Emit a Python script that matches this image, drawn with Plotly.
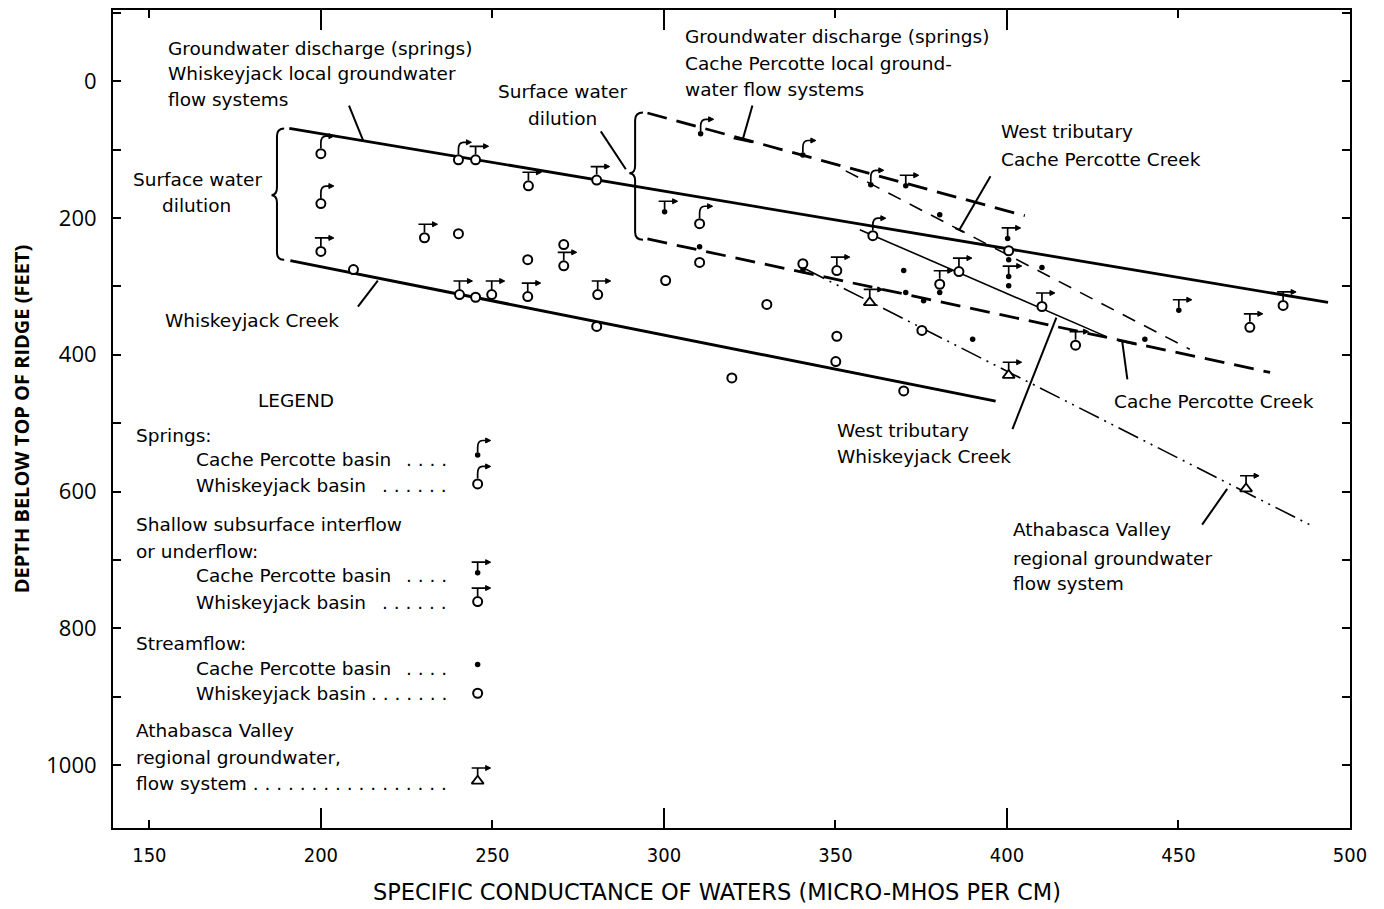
import plotly.graph_objects as go

# ---------------- data ----------------
# Springs
spring_cp_x = [310.7, 340.5, 360.3]
spring_cp_y = [77, 108, 151.6]
spring_wj_x = [200, 200, 240.1, 310.4, 360.9]
spring_wj_y = [106, 179, 115, 208.5, 226]
# Shallow subsurface interflow or underflow
shallow_cp_x = [370.5, 300.2, 400.2, 400.5, 450.1]
shallow_cp_y = [153, 191, 230, 285.7, 335]
shallow_wj_x = [200, 230.2, 245.1, 260.5, 280.4, 270.8, 240.4, 249.8, 260.3, 280.7,
                350.4, 386, 380.4, 410.2, 420, 470.8, 480.5]
shallow_wj_y = [249, 229, 115, 153, 144.6, 270, 312, 312, 315, 312,
                277, 278.5, 297, 329.5, 386, 360, 328]
# Streamflow
stream_cp_x = [310.4, 340.5, 369.9, 370.5, 375.7, 380.4, 400.5, 400.5, 410.2, 380.4, 390, 440.2]
stream_cp_y = [242, 277, 277, 309, 321, 195.5, 261, 299, 272.6, 309, 377.5, 377.5]
stream_wj_x = [209.5, 240.1, 245.1, 260.3, 270.8, 280.4, 310.4, 300.5, 340.5, 330,
               350.4, 350.1, 319.8, 375.2, 369.9, 400.5]
stream_wj_y = [275.5, 223, 316, 261, 239, 358.6, 265, 291.5, 267, 326.5,
               373, 410, 434, 364.5, 453, 248]
# Athabasca Valley regional groundwater flow system
athabasca_x = [360, 400.5, 469.7]
athabasca_y = [323.6, 430, 596]

# Trend lines
wj_local_x, wj_local_y = [190.8, 493.6], [69.1, 323.6]
wj_creek_x, wj_creek_y = [191.1, 396.7], [262.4, 467.9]
cp_local_x, cp_local_y = [295.2, 405.2], [46.6, 196.8]
cp_creek_x, cp_creek_y = [295.2, 476.7], [230.8, 425.9]
wt_cp_x, wt_cp_y = [353.0, 453.3], [131.2, 392.1]
wt_wj_x, wt_wj_y = [357.1, 428.8], [217.2, 373.2]
ath_x, ath_y = [341.0, 488.3], [274.0, 648.7]

# Legend sample symbol positions
legend_x = 245.7
legend_y = {"spring_cp": 546.6, "spring_wj": 588.9, "shallow_cp": 718.7,
            "shallow_wj": 760.9, "stream_cp": 852.8, "stream_wj": 895.0,
            "athabasca": 1023.3}

x_ticks = [150, 200, 250, 300, 350, 400, 450, 500]
x_long_ticks = [200, 300, 400, 500]
y_ticks = [0, 200, 400, 600, 800, 1000]

XR = [139.4, 500]
YR = [1092, -104]

TXT_FONT = "DejaVu Sans, sans-serif"
COND = "DejaVu Sans Condensed, DejaVu Sans, sans-serif"
BOLD_FONT = "Open Sans, Noto Sans, sans-serif"
BLACK = "black"

fig = go.Figure()

def add_line(x, y, dash="solid", width=2.6):
    fig.add_trace(go.Scatter(x=x, y=y, mode="lines", hoverinfo="skip",
                             line=dict(color=BLACK, width=width, dash=dash)))

add_line(wj_local_x, wj_local_y, width=2.8)
add_line(wj_creek_x, wj_creek_y, width=3)
add_line(cp_local_x, cp_local_y, dash="20px,10px", width=2.8)
add_line(cp_creek_x, cp_creek_y, dash="20px,10px", width=2.8)
add_line(wt_cp_x, wt_cp_y, dash="14px,10px", width=1.6)
add_line(wt_wj_x, wt_wj_y, width=1.6)
add_line(ath_x, ath_y, dash="22px,6px,2px,6px,2px,6px", width=1.6)

# dummy trace so the overlay axis (long ticks) is drawn
fig.add_trace(go.Scatter(x=[None], y=[None], xaxis="x2", hoverinfo="skip"))

def add_markers(x, y, symbol, size, fill, lw):
    fig.add_trace(go.Scatter(x=x, y=y, mode="markers", hoverinfo="skip", cliponaxis=False,
                             marker=dict(symbol=symbol, size=size, color=fill,
                                         line=dict(color=BLACK, width=lw))))

all_dot_x = stream_cp_x + spring_cp_x + shallow_cp_x + [legend_x] * 3
all_dot_y = stream_cp_y + spring_cp_y + shallow_cp_y + [legend_y["spring_cp"], legend_y["shallow_cp"], legend_y["stream_cp"]]
all_circ_x = stream_wj_x + spring_wj_x + shallow_wj_x + [legend_x] * 3
all_circ_y = stream_wj_y + spring_wj_y + shallow_wj_y + [legend_y["spring_wj"], legend_y["shallow_wj"], legend_y["stream_wj"]]

add_markers(all_circ_x, all_circ_y, "circle", 9, "white", 2)
add_markers(all_dot_x, all_dot_y, "circle", 5.5, BLACK, 0)
add_markers(athabasca_x + [legend_x], athabasca_y + [legend_y["athabasca"]], "triangle-up", 10.5, "white", 1.8)

shapes = []

def glyph(stroke, head, x, y):
    shapes.append(dict(type="path", xref="x", yref="y", xsizemode="pixel", ysizemode="pixel",
                       xanchor=x, yanchor=y, path=stroke, line=dict(color=BLACK, width=1.7)))
    shapes.append(dict(type="path", xref="x", yref="y", xsizemode="pixel", ysizemode="pixel",
                       xanchor=x, yanchor=y, path=head, fillcolor=BLACK,
                       line=dict(color=BLACK, width=1)))

def spring_glyph(b):
    return (f"M0,{b} L0,{b+5} Q0,{b+12} 5,{b+12} L9,{b+12}",
            f"M8,{b+14.5} L13,{b+12} L8,{b+9.5} Z")

def shallow_glyph(b):
    return (f"M0,{b} L0,{b+8} M-6,{b+8} L9,{b+8}",
            f"M8,{b+10.5} L13,{b+8} L8,{b+5.5} Z")

for x, y in zip(spring_cp_x + [legend_x], spring_cp_y + [legend_y["spring_cp"]]):
    glyph(*spring_glyph(2.5), x, y)
for x, y in zip(spring_wj_x + [legend_x], spring_wj_y + [legend_y["spring_wj"]]):
    glyph(*spring_glyph(5.5), x, y)
for x, y in zip(shallow_cp_x + [legend_x], shallow_cp_y + [legend_y["shallow_cp"]]):
    glyph(*shallow_glyph(2.5), x, y)
for x, y in zip(shallow_wj_x + [legend_x], shallow_wj_y + [legend_y["shallow_wj"]]):
    glyph(*shallow_glyph(5.5), x, y)
for x, y in zip(athabasca_x + [legend_x], athabasca_y + [legend_y["athabasca"]]):
    glyph(*shallow_glyph(5), x, y)

# leader lines (callouts) in data coordinates
leaders = [
    ((208.2, 35.7), (212.3, 86.6)),
    ((210.8, 329.7), (216.6, 291.8)),
    ((281.6, 73.5), (288.9, 128.8)),
    ((325.8, 35.7), (322.9, 86.6)),
    ((320.3, 83.7), (325.8, 89.5)),
    ((395.2, 139.0), (386.1, 217.6)),
    ((384.9, 214.8), (387.3, 220.5)),
    ((435.1, 435.9), (433.6, 380.6)),
    ((432.5, 379.2), (437.8, 385.0)),
    ((401.6, 508.7), (414.4, 345.7)),
    ((456.9, 648.5), (464.2, 596.1)),
]
for (x0, y0), (x1, y1) in leaders:
    shapes.append(dict(type="line", xref="x", yref="y", x0=x0, y0=y0, x1=x1, y1=y1,
                       line=dict(color=BLACK, width=2)))

def brace(xe, xs, xt, yt, ym, yb):
    return (f"M{xe},{yt} Q{xs},{yt} {xs},{yt+11} L{xs},{ym-11} Q{xs},{ym} {xt},{ym} "
            f"Q{xs},{ym} {xs},{ym+11} L{xs},{yb-11} Q{xs},{yb} {xe},{yb}")

shapes.append(dict(type="path", xref="x", yref="y", path=brace(189.3, 187.2, 185.6, 69.1, 166.7, 261.3),
                   line=dict(color=BLACK, width=2)))
shapes.append(dict(type="path", xref="x", yref="y", path=brace(293.9, 291.6, 289.9, 46.0, 134.6, 232.1),
                   line=dict(color=BLACK, width=2)))

annotations = []

def label(text, x, y, anchor="left", size=18.5, font=TXT_FONT):
    annotations.append(dict(text=text, x=x, y=y, xref="x", yref="y", xanchor=anchor,
                            yanchor="middle", showarrow=False,
                            font=dict(family=font, size=size, color=BLACK)))

label("Groundwater discharge (springs)", 154.9, -47.3)
label("Whiskeyjack local groundwater", 154.9, -10.9)
label("flow systems", 154.9, 26.9)
label("Surface water", 163.9, 143.4, "center")
label("dilution", 163.6, 181.2, "center")
label("Whiskeyjack Creek", 154.0, 350.1)
label("Surface water", 270.3, 15.3, "center")
label("dilution", 270.5, 54.6, "center")
label("Groundwater discharge (springs)", 305.7, -64.8)
label("Cache Percotte local ground-", 305.7, -25.5)
label("water flow systems", 305.7, 12.4)
label("West tributary", 397.8, 73.5)
label("Cache Percotte Creek", 397.8, 114.3)
label("Cache Percotte Creek", 430.7, 468.0)
label("West tributary", 350.0, 510.2)
label("Whiskeyjack Creek", 350.0, 549.5)
label("Athabasca Valley", 401.3, 655.8)
label("regional groundwater", 401.3, 698.0)
label("flow system", 401.3, 734.4)

# legend block
label("LEGEND", 192.7, 466.5, "center")
label("Springs:", 145.6, 517.5)
label("Cache Percotte basin", 163.0, 552.5)
label("Whiskeyjack basin", 163.0, 590.5)
label("Shallow subsurface interflow", 145.6, 648.5)
label("or underflow:", 145.6, 687.8)
label("Cache Percotte basin", 163.0, 722.7)
label("Whiskeyjack basin", 163.0, 762.0)
label("Streamflow:", 145.6, 821.7)
label("Cache Percotte basin", 163.0, 858.1)
label("Whiskeyjack basin", 163.0, 896.0)
label("Athabasca Valley", 145.6, 949.8)
label("regional groundwater,", 145.6, 989.1)
label("flow system", 145.6, 1027.0)
dots_x = 237.3
for y, n in [(552.5, 4), (590.5, 6), (722.7, 4), (762.0, 6), (858.1, 4), (896.0, 7), (1027.0, 18)]:
    label(" ".join(["."] * n), dots_x, y, "right")

# x-axis title (placed as paper annotation to match the reference's offset)
annotations.append(dict(text="SPECIFIC CONDUCTANCE OF WATERS (MICRO-MHOS PER CM)",
                        x=0.488, y=-0.078, xref="paper", yref="paper",
                        xanchor="center", yanchor="middle", showarrow=False,
                        font=dict(family=TXT_FONT, size=22.5, color=BLACK)))

# page body has an 8px margin: the figure is sized/offset to compensate
fig.update_layout(
    width=1376, height=901,
    margin=dict(l=104, r=34, t=0, b=81),
    plot_bgcolor="white", paper_bgcolor="white",
    showlegend=False,
    shapes=shapes, annotations=annotations,
    xaxis=dict(range=XR, tickmode="array", tickvals=x_ticks, ticktext=[str(v) for v in x_ticks],
               ticks="inside", ticklen=8, tickwidth=1.5, tickcolor=BLACK,
               showline=True, linewidth=2, linecolor=BLACK, mirror="ticks",
               showgrid=False, zeroline=False, ticklabelstandoff=8,
               tickfont=dict(family=COND, size=20, color=BLACK)),
    xaxis2=dict(range=XR, overlaying="x", anchor="y", side="bottom",
                tickmode="array", tickvals=x_long_ticks, ticks="inside", ticklen=20,
                tickwidth=1.5, tickcolor=BLACK, showticklabels=False, showgrid=False,
                zeroline=False, showline=False, mirror="ticks"),
    yaxis=dict(range=YR, tickmode="array", tickvals=y_ticks, ticktext=[str(v) for v in y_ticks],
               ticks="inside", ticklen=8, tickwidth=1.5, tickcolor=BLACK,
               minor=dict(dtick=100, tick0=0, ticks="inside", ticklen=8, tickwidth=1.5, tickcolor=BLACK),
               showline=True, linewidth=2, linecolor=BLACK, mirror="ticks",
               showgrid=False, zeroline=False, ticklabelstandoff=10,
               tickfont=dict(family=BOLD_FONT, size=22, color=BLACK),
               title=dict(text="<b>DEPTH BELOW TOP OF RIDGE (FEET)</b>",
                          font=dict(family=BOLD_FONT, size=20, color=BLACK), standoff=24)),
)

fig.write_html("out.html")
